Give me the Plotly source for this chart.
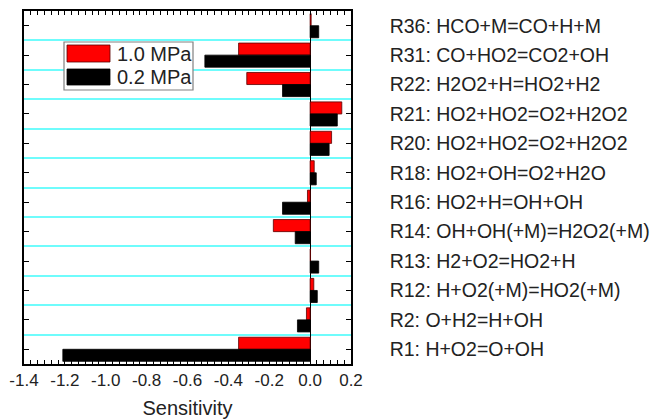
import plotly.graph_objects as go

# ---- data (top-to-bottom order as drawn) ----
reactions = [
    "R36: HCO+M=CO+H+M",
    "R31: CO+HO2=CO2+OH",
    "R22: H2O2+H=HO2+H2",
    "R21: HO2+HO2=O2+H2O2",
    "R20: HO2+HO2=O2+H2O2",
    "R18: HO2+OH=O2+H2O",
    "R16: HO2+H=OH+OH",
    "R14: OH+OH(+M)=H2O2(+M)",
    "R13: H2+O2=HO2+H",
    "R12: H+O2(+M)=HO2(+M)",
    "R2: O+H2=H+OH",
    "R1: H+O2=O+OH",
]
sens_1_0MPa = [0.005, -0.35, -0.31, 0.155, 0.105, 0.02, -0.013, -0.18, 0.002, 0.018, -0.018, -0.35]
sens_0_2MPa = [0.042, -0.515, -0.135, 0.133, 0.093, 0.03, -0.135, -0.073, 0.042, 0.035, -0.062, -1.21]
series_names = ["1.0 MPa", "0.2 MPa"]
x_tickvals = [-1.4, -1.2, -1.0, -0.8, -0.6, -0.4, -0.2, 0.0, 0.2]
x_ticktext = ["-1.4", "-1.2", "-1.0", "-0.8", "-0.6", "-0.4", "-0.2", "0.0", "0.2"]

W, H = 657, 419
ML, MR, MT, MB = 24, 306, 11, 55
FONT = "Liberation Sans, Arial, sans-serif"

ypos = list(range(len(reactions)))
boundaries = [i + 0.5 for i in ypos[:-1]]

fig = go.Figure()
fig.add_trace(go.Bar(y=ypos, x=sens_1_0MPa, orientation="h", name=series_names[0],
                     marker=dict(color="#ff0000", line=dict(color="#5a0000", width=0.8))))
fig.add_trace(go.Bar(y=ypos, x=sens_0_2MPa, orientation="h", name=series_names[1],
                     marker=dict(color="#000000", line=dict(color="#000000", width=0.8))))

# custom legend (paper coordinates from pixel positions)
pw, ph = W - ML - MR, H - MT - MB
def px(x):
    return (x - ML) / pw
def py(y):
    return 1 - (y - MT) / ph

shapes = [
    dict(type="rect", xref="paper", yref="paper", x0=px(64), x1=px(193), y0=py(90), y1=py(42),
         line=dict(color="#808080", width=1.2), fillcolor="white", layer="above"),
    dict(type="rect", xref="paper", yref="paper", x0=px(67), x1=px(110), y0=py(62), y1=py(45),
         line=dict(color="#5a0000", width=0.8), fillcolor="#ff0000", layer="above"),
    dict(type="rect", xref="paper", yref="paper", x0=px(67), x1=px(110), y0=py(85), y1=py(69),
         line=dict(color="#000000", width=0.8), fillcolor="#000000", layer="above"),
]
annotations = [
    dict(xref="paper", yref="paper", x=px(115), y=py(54), text=series_names[0], showarrow=False,
         xanchor="left", yanchor="middle", font=dict(size=20, color="#222", family=FONT)),
    dict(xref="paper", yref="paper", x=px(115), y=py(77), text=series_names[1], showarrow=False,
         xanchor="left", yanchor="middle", font=dict(size=20, color="#222", family=FONT)),
]

fig.update_layout(
    width=W, height=H,
    margin=dict(l=ML, r=MR, t=MT, b=MB, pad=0),
    paper_bgcolor="white", plot_bgcolor="white",
    barmode="group", bargap=0.18, bargroupgap=0,
    showlegend=False,
    font=dict(family=FONT, color="#222"),
    shapes=shapes, annotations=annotations,
    xaxis=dict(
        range=[-1.4, 0.2], tickmode="array", tickvals=x_tickvals, ticktext=x_ticktext,
        ticks="inside", ticklen=4, tickwidth=1, tickcolor="black",
        showline=True, linecolor="black", linewidth=1.5, mirror="ticks",
        showgrid=False, zeroline=True, zerolinecolor="black", zerolinewidth=1,
        automargin=False,
        tickfont=dict(size=17, family=FONT, color="#222"),
        minor=dict(dtick=0.2 / 6, tick0=0, ticks="inside", ticklen=4, tickcolor="black", showgrid=False),
        title=dict(text="Sensitivity", font=dict(size=20, family=FONT, color="#222"), standoff=13),
    ),
    yaxis=dict(
        range=[len(reactions) - 0.5, -0.5], tickmode="array", tickvals=ypos, ticktext=reactions,
        side="right", ticks="inside", ticklen=5, tickwidth=1, tickcolor="black",
        showline=True, linecolor="black", linewidth=1.5, mirror="ticks",
        showgrid=False, zeroline=False, automargin=False,
        ticklabelstandoff=33,
        tickfont=dict(size=19.5, family=FONT, color="#222"),
        minor=dict(tickmode="array", tickvals=boundaries, showgrid=True,
                   gridcolor="#6ffcfc", gridwidth=1.5, ticks=""),
    ),
)

fig.write_html("out.html", config={"displayModeBar": False},
               post_script="document.body.style.margin='0';")
